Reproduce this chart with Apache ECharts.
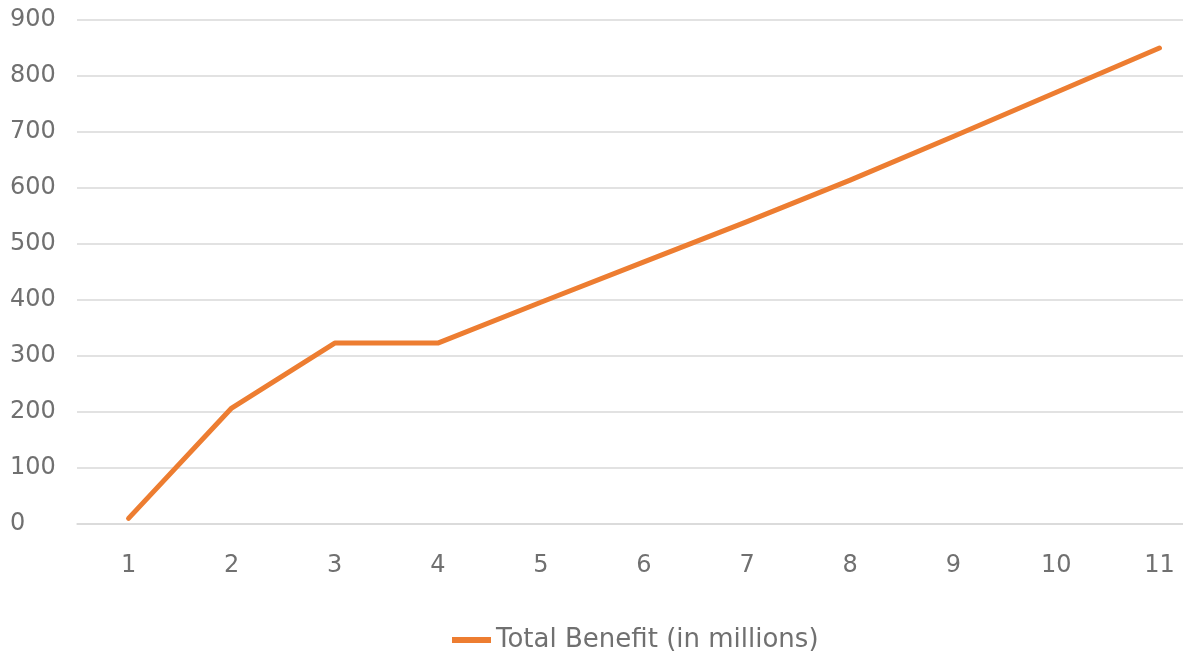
<!DOCTYPE html>
<html>
<head>
<meta charset="utf-8">
<script src="https://cdn.jsdelivr.net/npm/echarts@6/dist/echarts.min.js"></script>
<style>html,body{margin:0;padding:0;background:#fff}#c{width:1183px;height:656px}</style>
</head>
<body>
<div id="c"></div>
<script>
const categories = ['1','2','3','4','5','6','7','8','9','10','11'];
const totalBenefit = [10, 207, 323, 323, 396, 468, 540, 614, 692, 771, 850];
const seriesName = 'Total Benefit (in millions)';

const chart = echarts.init(document.getElementById('c'));
chart.setOption({
  animation: false,
  backgroundColor: '#fff',
  grid: { left: 77, top: 20, width: 1134, height: 504, outerBoundsMode: 'none', containLabel: false },
  legend: {
    left: 447, top: 622,
    itemWidth: 39, itemHeight: 6, itemGap: 5,
    icon: 'rect',
    textStyle: { fontFamily: 'DejaVu Sans', fontSize: 26, color: '#707070', padding: [0, 0, 0, 0] },
    data: [{ name: seriesName, icon: 'rect' }]
  },
  xAxis: {
    type: 'category',
    data: categories,
    boundaryGap: true,
    axisLine: { show: true, lineStyle: { color: '#d9d9d9', width: 1.5 } },
    axisTick: { show: false },
    axisLabel: { fontFamily: 'DejaVu Sans', fontSize: 24, color: '#707070', margin: 30 },
    splitLine: { show: false }
  },
  yAxis: {
    type: 'value',
    min: 0, max: 900, interval: 100,
    axisLine: { show: false },
    axisTick: { show: false },
    axisLabel: { fontFamily: 'DejaVu Sans', fontSize: 24, color: '#707070', margin: 67, align: 'left', padding: [6, 0, 0, 0] },
    splitLine: { lineStyle: { color: '#d9d9d9', width: 1.5 } }
  },
  series: [{
    name: seriesName,
    type: 'line',
    data: totalBenefit,
    showSymbol: false,
    symbol: 'none',
    itemStyle: { color: '#ED7D31' },
    lineStyle: { color: '#ED7D31', width: 5, cap: 'round', join: 'round' }
  }]
});
</script>
</body>
</html>
